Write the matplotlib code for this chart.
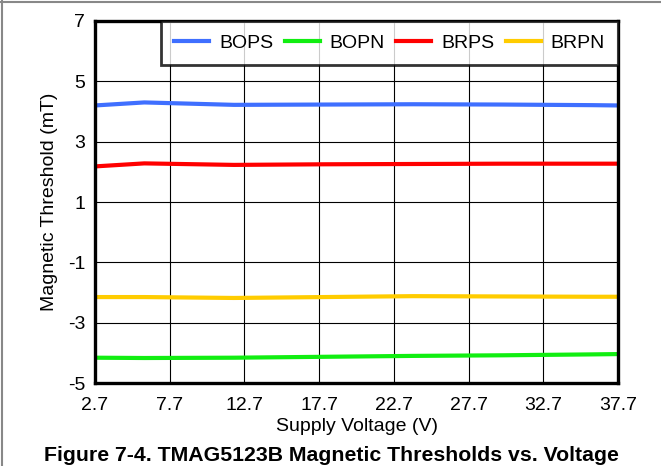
import matplotlib.pyplot as plt
from matplotlib.lines import Line2D

plt.rcParams['font.family'] = ['Liberation Sans', 'DejaVu Sans']
plt.rcParams['axes.unicode_minus'] = False

# --- DATA ---
voltage = [2.7, 6, 12, 18, 24, 30, 36, 37.7]
bops = [4.20, 4.30, 4.22, 4.23, 4.24, 4.23, 4.21, 4.20]
bopn = [-4.16, -4.17, -4.16, -4.13, -4.10, -4.08, -4.05, -4.04]
brps = [2.18, 2.28, 2.23, 2.25, 2.26, 2.27, 2.27, 2.27]
brpn = [-2.15, -2.15, -2.18, -2.15, -2.12, -2.13, -2.14, -2.14]
x_ticks = [2.7, 7.7, 12.7, 17.7, 22.7, 27.7, 32.7, 37.7]
y_ticks = [-5, -3, -1, 1, 3, 5, 7]

series = [('BOPS', bops, '#3f6fff'), ('BOPN', bopn, '#11ee11'),
          ('BRPS', brps, '#ff0000'), ('BRPN', brpn, '#ffcc00')]

fig = plt.figure(figsize=(6.61, 4.66), dpi=100)
ax = fig.add_axes([0.1437, 0.178, 0.7913, 0.777])

for name, vals, col in series:
    ax.plot(voltage, vals, color=col, lw=3, label=name, zorder=3)

ax.set_xlim(2.7, 37.7)
ax.set_ylim(-5, 7)
ax.set_xticks(x_ticks)
ax.set_xticklabels([str(v) for v in x_ticks])
ax.set_yticks(y_ticks)
ax.tick_params(length=0, labelsize=14, pad=7)
ax.tick_params(axis='x', pad=10)
ax.grid(True, color='black', lw=0.8)
for s in ax.spines.values():
    s.set_linewidth(2.4)
    s.set_zorder(5)

ax.set_xlabel('Supply Voltage (V)', fontsize=14, labelpad=3)
ax.set_ylabel('Magnetic Threshold (mT)', fontsize=14, labelpad=7)

leg = ax.legend(loc='upper right', ncol=4, fontsize=14, frameon=True,
                fancybox=False, borderaxespad=0, handlelength=1.8,
                handletextpad=0.5, columnspacing=0.6, borderpad=0.68)
leg.get_frame().set_edgecolor('black')
leg.get_frame().set_linewidth(2)
leg.set_zorder(6)

fig.text(0.5015, 0.022, 'Figure 7-4. TMAG5123B Magnetic Thresholds vs. Voltage',
         ha='center', va='center', fontsize=15.3, fontweight='bold')

# gray frame along top and left
fig.add_artist(Line2D([0, 1], [0.995, 0.995], color='#888888', lw=1.5, transform=fig.transFigure))
fig.add_artist(Line2D([0.003, 0.003], [0, 1], color='#888888', lw=1.5, transform=fig.transFigure))

plt.savefig('out.png', dpi=100)
